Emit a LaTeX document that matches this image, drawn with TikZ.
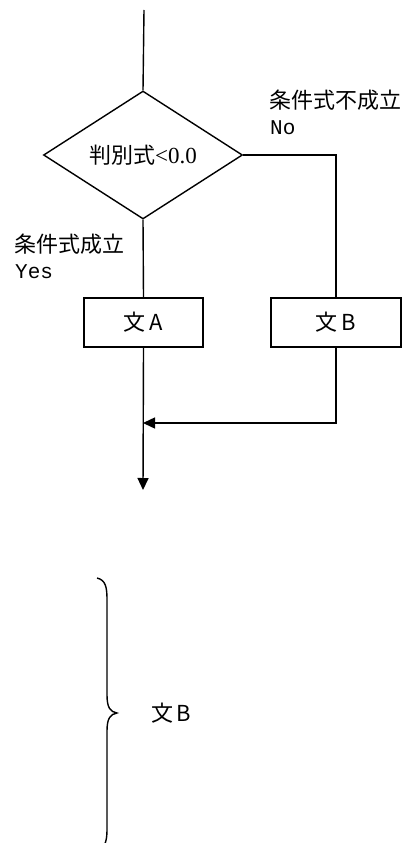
\documentclass[tikz,border=0pt]{standalone}
\usepackage{fontspec}
\setmainfont{Liberation Serif}
\newfontfamily\jpfont{Noto Sans CJK JP}
\newfontfamily\monofont{Liberation Mono}
\usetikzlibrary{shapes.geometric,arrows.meta}
\begin{document}
\begin{tikzpicture}[x=1pt,y=-1pt,
  line/.style={line width=1.4pt,black},
  arr/.style={line, -{Triangle[length=12pt,width=11pt]}},
  jp/.style={font=\jpfont\fontsize{22}{24}\selectfont, inner sep=0pt},
  mono/.style={font=\monofont\fontsize{21}{24}\selectfont, inner sep=0pt},
  stmt/.style={draw, line width=1.4pt, rectangle, minimum height=49pt, inner sep=0pt, font=\jpfont\fontsize{22}{24}\selectfont},
  decision/.style={draw, line width=1.4pt, diamond, minimum width=199pt, minimum height=118pt, inner sep=0pt}]
\useasboundingbox (0,0) rectangle (419,843);
\coordinate (top) at (144,10);
\node[decision] (dec) at (143,155) {\jpfont\fontsize{22}{24}\selectfont 判別式\fontspec{Liberation Serif}\fontsize{23}{24}\selectfont<0.0};
\node[stmt, minimum width=119pt] (A) at (143.5,322.5) {文\,A};
\node[stmt, minimum width=130pt] (B) at (336,322.5) {文\,B};
\node[jp, anchor=west] (ng) at (269,100) {条件式不成立};
\node[mono, anchor=west] (no) at (270,128) {No};
\node[jp, anchor=west] (ok) at (14,244) {条件式成立};
\node[mono, anchor=west] (yes) at (15,272) {Yes};
\coordinate (merge) at (143,423);
\coordinate (out) at (143,490);
\draw[line] (top) -- (dec.north);
\draw[line] (dec.east) -| (B.north);
\draw[line] (dec.south) -- (A.north);
\draw[arr] (B.south) |- (merge);
\draw[arr] (A.south) -- (out);
% brace
\draw[line] (97,578) .. controls (106,580) and (107,588) .. (107,600)
  -- (107,695) .. controls (107,707) and (110,712) .. (117,713)
  .. controls (110,714) and (107,719) .. (107,731)
  -- (107,830) .. controls (107,840) and (105,846) .. (101,850);
\node[jp, anchor=west] (sb) at (151,713) {文\,B};
\end{tikzpicture}
\end{document}
